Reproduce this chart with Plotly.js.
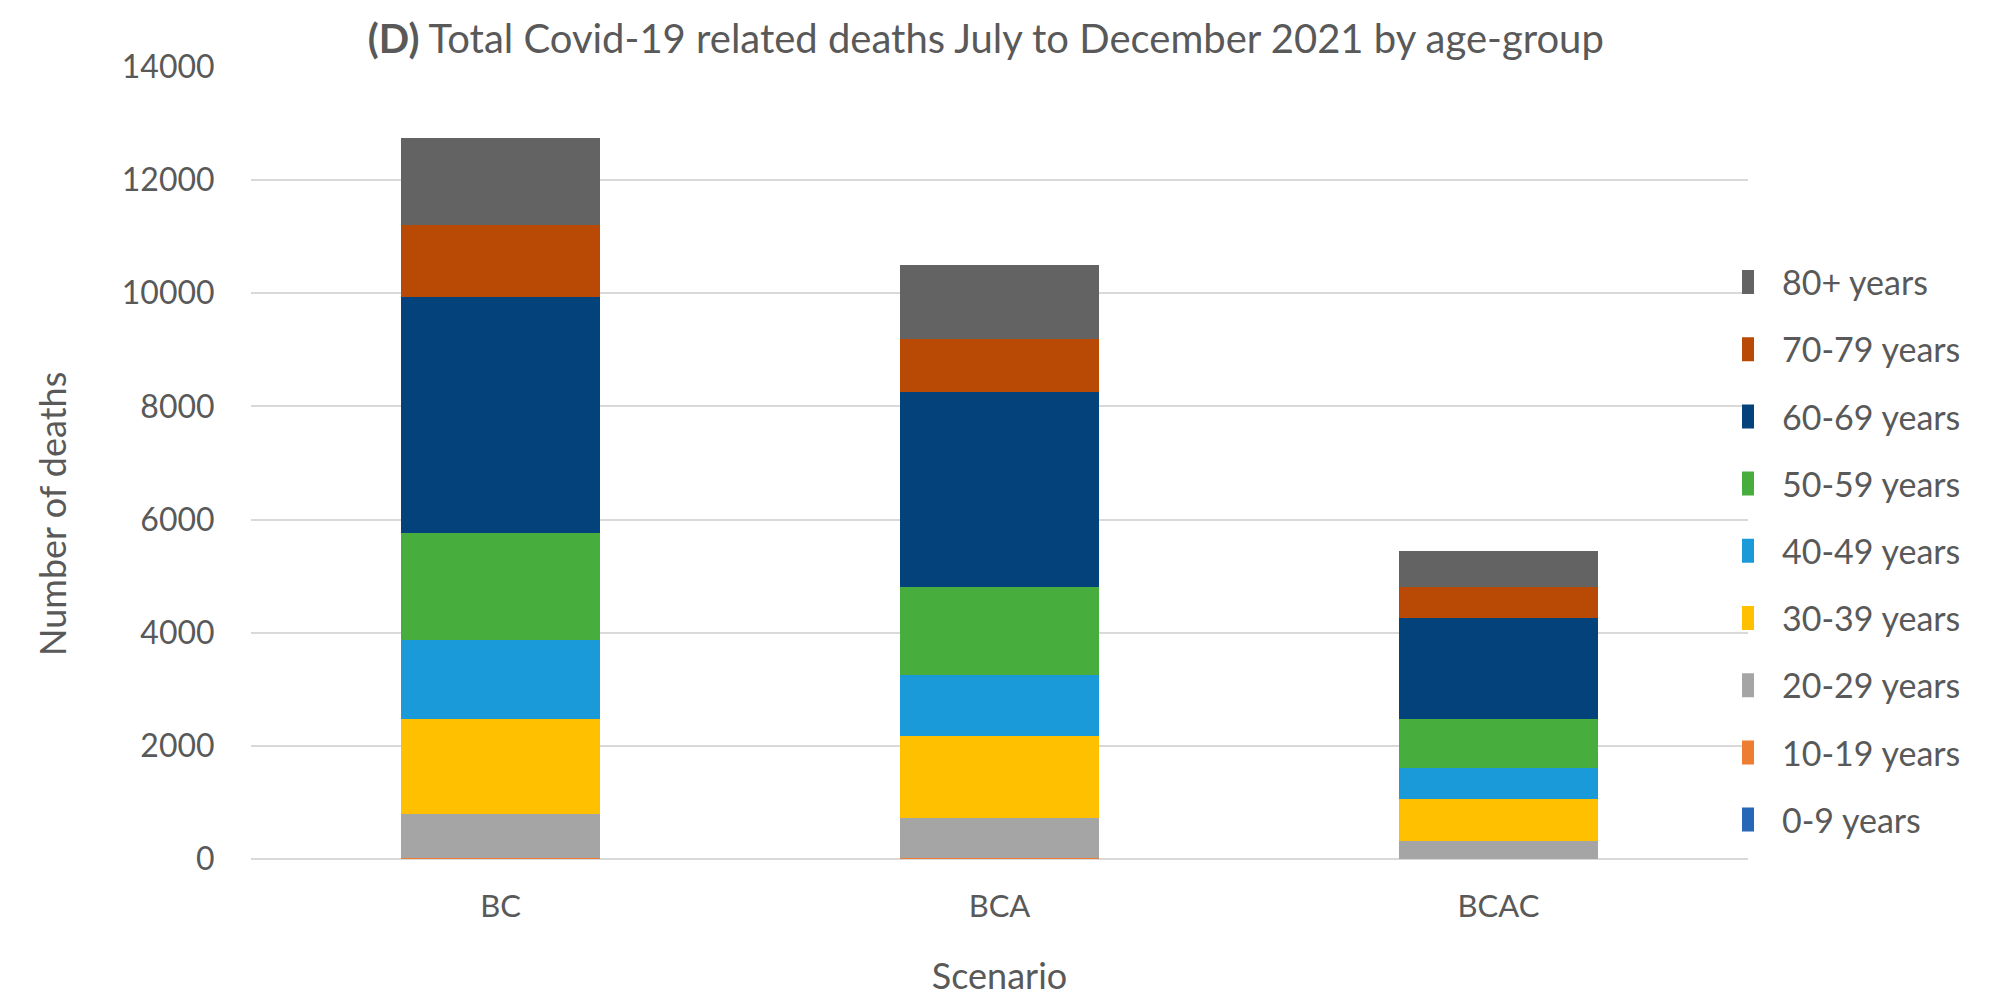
<!DOCTYPE html>
<html>
<head>
<meta charset="utf-8">
<script src="https://cdn.plot.ly/plotly-3.0.1.min.js"></script>
<style>
  html, body { margin: 0; padding: 0; background: #ffffff; }
  #chart { width: 2016px; height: 997px; }
</style>
</head>
<body>
<div id="chart"></div>
<script>
// Scenarios on the x axis
const scenarios = ['BC', 'BCA', 'BCAC'];

// Age groups, bottom of the stack first
const ageGroups = ['0-9 years', '10-19 years', '20-29 years', '30-39 years', '40-49 years',
                   '50-59 years', '60-69 years', '70-79 years', '80+ years'];

// Deaths per age group, one value per scenario (BC, BCA, BCAC)
const deaths0to9   = [3, 2, 1];
const deaths10to19 = [10, 8, 4];
const deaths20to29 = [780, 710, 320];
const deaths30to39 = [1690, 1455, 740];
const deaths40to49 = [1380, 1085, 540];
const deaths50to59 = [1900, 1540, 865];
const deaths60to69 = [4180, 3460, 1785];
const deaths70to79 = [1260, 940, 550];
const deaths80plus = [1540, 1300, 640];

const seriesValues = [deaths0to9, deaths10to19, deaths20to29, deaths30to39, deaths40to49,
                      deaths50to59, deaths60to69, deaths70to79, deaths80plus];

const seriesColors = ['#2767B8', '#ED7D31', '#A5A5A5', '#FFC000', '#1B9AD9',
                      '#47AE3D', '#03427B', '#B84A06', '#636363'];

const textColor = '#595959';
const fontFamily = 'Lato, "Open Sans", sans-serif';

// Oldest group is listed first in the legend, matching the stack order
const traces = ageGroups.map((name, i) => ({
  type: 'bar',
  name: name,
  x: scenarios,
  y: seriesValues[i],
  legendgroup: name,
  legendrank: 100 - i,
  marker: { color: seriesColors[i], line: { width: 0 } },
  hovertemplate: '%{x}<br>' + name + ': %{y}<extra></extra>'
}));

const layout = {
  width: 2016,
  height: 997,
  paper_bgcolor: '#ffffff',
  plot_bgcolor: '#ffffff',
  barmode: 'stack',
  bargap: 0.6,
  margin: { l: 251, r: 268, t: 67, b: 138 },
  font: { family: fontFamily, color: textColor, size: 32 },
  title: {
    text: '<b>(D)</b> Total Covid-19 related deaths July to December 2021 by age-group',
    font: { family: fontFamily, size: 40, color: textColor },
    x: 0.489, xanchor: 'center', xref: 'container',
    y: 0.961, yanchor: 'middle', yref: 'container'
  },
  xaxis: {
    type: 'category',
    showgrid: false,
    showline: false,
    zeroline: false,
    ticks: 'outside',
    ticklen: 20,
    tickcolor: 'rgba(0,0,0,0)',
    tickfont: { family: fontFamily, size: 31, color: textColor },
    title: { text: 'Scenario', font: { family: fontFamily, size: 36, color: textColor }, standoff: 40 },
    automargin: false
  },
  yaxis: {
    range: [0, 14000],
    dtick: 2000,
    tickformat: 'd',
    showgrid: true,
    gridcolor: '#D9D9D9',
    gridwidth: 1.5,
    zeroline: true,
    zerolinecolor: '#D9D9D9',
    zerolinewidth: 1.5,
    showline: false,
    ticks: 'outside',
    ticklen: 29,
    tickcolor: 'rgba(0,0,0,0)',
    tickfont: { family: fontFamily, size: 32, color: textColor },
    automargin: false
  },
  legend: {
    x: 0.996, xanchor: 'left',
    y: 0.389, yanchor: 'middle',
    traceorder: 'grouped',
    tracegroupgap: 20,
    font: { family: fontFamily, size: 34, color: textColor },
    itemwidth: 30,
    bgcolor: 'rgba(0,0,0,0)'
  },
  annotations: [{
    text: 'Number of deaths',
    textangle: -90,
    xref: 'paper', yref: 'paper',
    x: -0.133, y: 0.4356,
    xanchor: 'center', yanchor: 'middle',
    showarrow: false,
    font: { family: fontFamily, size: 36, color: textColor }
  }]
};

// Legend swatches are drawn at twice the default size
function enlargeLegendSwatches(gd) {
  gd.querySelectorAll('.legend .legendpoints path').forEach(p => {
    p.setAttribute('transform', 'scale(2)');
  });
}

Plotly.newPlot('chart', traces, layout, { displayModeBar: false, responsive: false })
  .then(enlargeLegendSwatches);
</script>
</body>
</html>
